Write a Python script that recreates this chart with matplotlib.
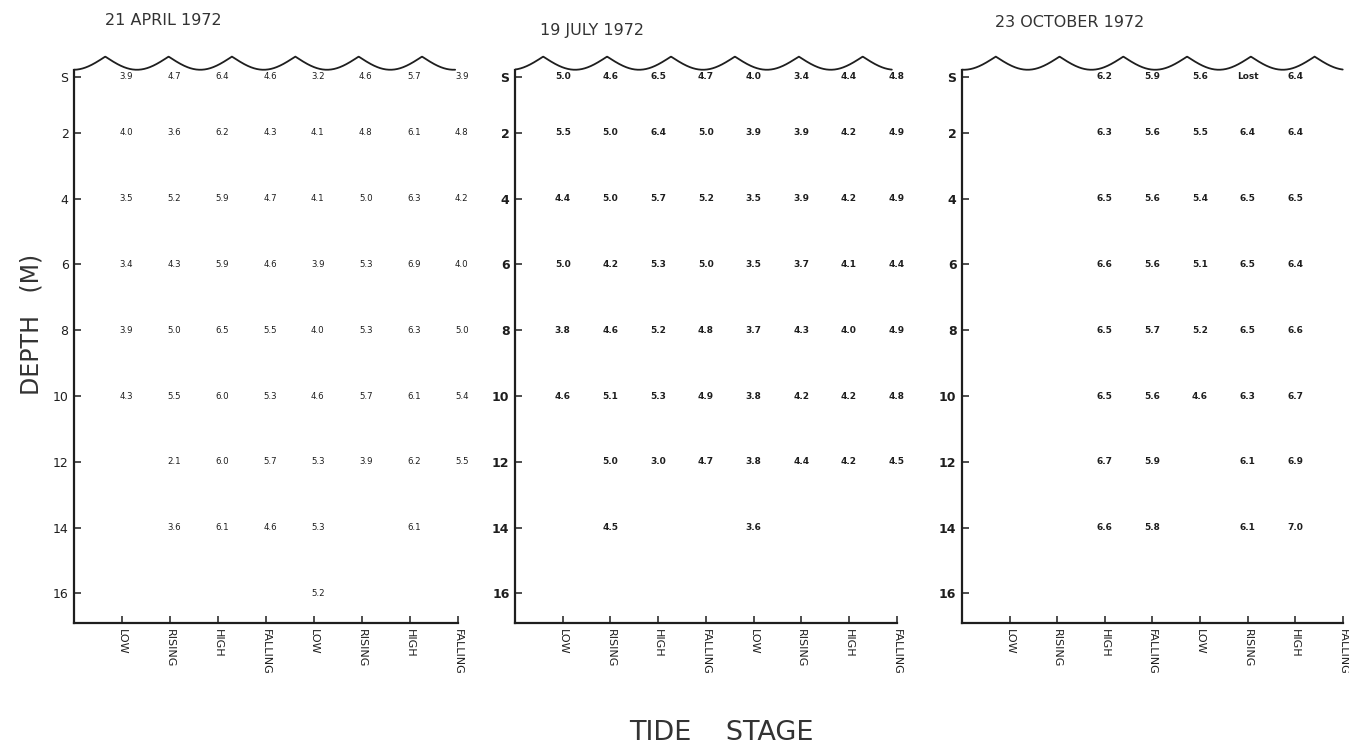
import numpy as np
import matplotlib
matplotlib.use("Agg")
import matplotlib.pyplot as plt

# depth rows (S = surface) and tide-stage columns
depth_labels = ["S", "2", "4", "6", "8", "10", "12", "14", "16"]
depth_pos = [0.3, 2, 4, 6, 8, 10, 12, 14, 16]
stages = ["LOW", "RISING", "HIGH", "FALLING", "LOW", "RISING", "HIGH", "FALLING"]

# readings per depth row, one entry per tide stage ("" = no sample)
april = [
    ["3.9", "4.7", "6.4", "4.6", "3.2", "4.6", "5.7", "3.9"],
    ["4.0", "3.6", "6.2", "4.3", "4.1", "4.8", "6.1", "4.8"],
    ["3.5", "5.2", "5.9", "4.7", "4.1", "5.0", "6.3", "4.2"],
    ["3.4", "4.3", "5.9", "4.6", "3.9", "5.3", "6.9", "4.0"],
    ["3.9", "5.0", "6.5", "5.5", "4.0", "5.3", "6.3", "5.0"],
    ["4.3", "5.5", "6.0", "5.3", "4.6", "5.7", "6.1", "5.4"],
    ["", "2.1", "6.0", "5.7", "5.3", "3.9", "6.2", "5.5"],
    ["", "3.6", "6.1", "4.6", "5.3", "", "6.1", ""],
    ["", "", "", "", "5.2", "", "", ""],
]
july = [
    ["5.0", "4.6", "6.5", "4.7", "4.0", "3.4", "4.4", "4.8"],
    ["5.5", "5.0", "6.4", "5.0", "3.9", "3.9", "4.2", "4.9"],
    ["4.4", "5.0", "5.7", "5.2", "3.5", "3.9", "4.2", "4.9"],
    ["5.0", "4.2", "5.3", "5.0", "3.5", "3.7", "4.1", "4.4"],
    ["3.8", "4.6", "5.2", "4.8", "3.7", "4.3", "4.0", "4.9"],
    ["4.6", "5.1", "5.3", "4.9", "3.8", "4.2", "4.2", "4.8"],
    ["", "5.0", "3.0", "4.7", "3.8", "4.4", "4.2", "4.5"],
    ["", "4.5", "", "", "3.6", "", "", ""],
    ["", "", "", "", "", "", "", ""],
]
october = [
    ["", "", "6.2", "5.9", "5.6", "Lost", "6.4", ""],
    ["", "", "6.3", "5.6", "5.5", "6.4", "6.4", ""],
    ["", "", "6.5", "5.6", "5.4", "6.5", "6.5", ""],
    ["", "", "6.6", "5.6", "5.1", "6.5", "6.4", ""],
    ["", "", "6.5", "5.7", "5.2", "6.5", "6.6", ""],
    ["", "", "6.5", "5.6", "4.6", "6.3", "6.7", ""],
    ["", "", "6.7", "5.9", "", "6.1", "6.9", ""],
    ["", "", "6.6", "5.8", "", "6.1", "7.0", ""],
    ["", "", "", "", "", "", "", ""],
]
titles = ["21 APRIL 1972", "19 JULY 1972", "23 OCTOBER 1972"]

ink = "#1e1e1e"
fig = plt.figure(figsize=(13.49, 7.5), dpi=100)

# [left, bottom, width, height], title x/y, wave first crest, wave period, wave end
panels = [
    dict(data=april, rect=[0.0549, 0.1693, 0.2864, 0.7741], tx=0.0778, ty=0.973,
         crest0=0.65, period=1.32, wend=7.94, dx=0.08, weight="normal", fs=6.2),
    dict(data=july, rect=[0.3818, 0.1693, 0.2846, 0.7741], tx=0.4003, ty=0.960,
         crest0=0.59, period=1.34, wend=7.90, dx=0.0, weight="bold", fs=6.5),
    dict(data=october, rect=[0.7131, 0.1693, 0.2840, 0.7741], tx=0.7376, ty=0.970,
         crest0=0.71, period=1.34, wend=8.00, dx=0.0, weight="bold", fs=6.5),
]

trough, crest = 0.08, -0.32
xpos = np.arange(1, len(stages) + 1)

for i, p in enumerate(panels):
    ax = fig.add_axes(p["rect"])
    ax.set_xlim(0, 8.05)
    ax.set_ylim(16.9, -0.75)

    # water surface line: scalloped arcs with cusps at the crests
    wx = np.linspace(0, p["wend"], 800)
    wy = crest + (trough - crest) * np.abs(np.sin(np.pi * (wx - p["crest0"]) / p["period"]))
    ax.plot(wx, wy, color=ink, lw=1.3, solid_capstyle="round")

    for s in ["top", "right"]:
        ax.spines[s].set_visible(False)
    for s in ["left", "bottom"]:
        ax.spines[s].set_color(ink)
        ax.spines[s].set_linewidth(1.6)
    ax.spines["left"].set_bounds(16.9, trough)
    ax.spines["bottom"].set_bounds(0, 8)

    ax.set_yticks(depth_pos)
    ax.set_yticklabels(depth_labels, fontsize=9, fontweight=p["weight"], color=ink)
    ax.set_xticks(xpos)
    ax.set_xticklabels(stages, rotation=270, fontsize=8, color=ink, va="top", ha="center")
    ax.tick_params(axis="both", direction="in", length=5, width=1.1, color=ink)
    ax.tick_params(axis="y", pad=4)
    ax.tick_params(axis="x", pad=4)

    for r, row in enumerate(p["data"]):
        for c, val in enumerate(row):
            if val:
                ax.text(xpos[c] + p["dx"], depth_pos[r], val, fontsize=p["fs"],
                        fontweight=p["weight"], color=ink, ha="center", va="center")

    fig.text(p["tx"], p["ty"], titles[i], fontsize=11.5, color="#333333",
             ha="left", va="center")

fig.text(0.0237, 0.567, "DEPTH   (M)", rotation=90, fontsize=17, color="#333333",
         ha="center", va="center")
fig.text(0.535, 0.0227, "TIDE    STAGE", fontsize=19.5, color="#333333",
         ha="center", va="center")

fig.savefig("out.png", dpi=100, facecolor="white")
